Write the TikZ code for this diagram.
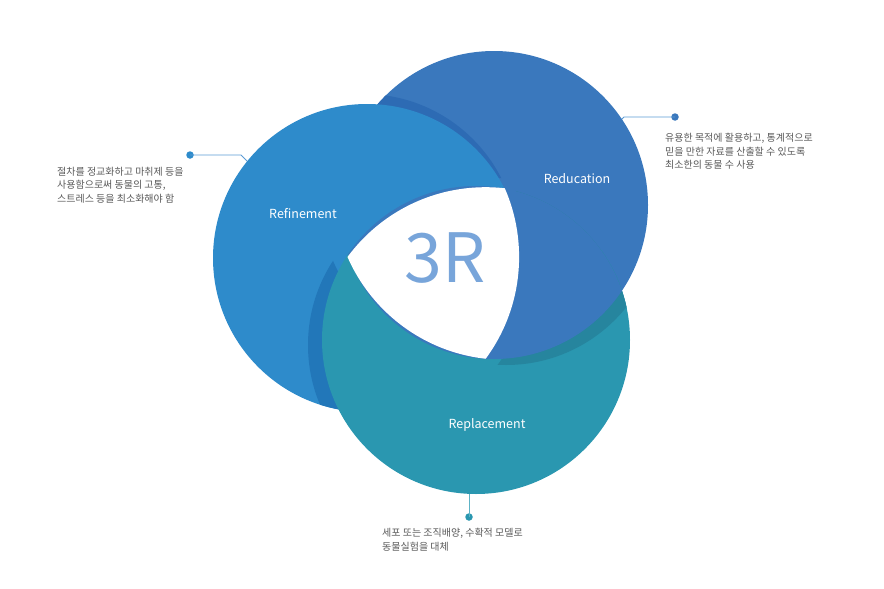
\documentclass[tikz,border=0pt]{standalone}
\usepackage{fontspec}
\setmainfont{Noto Sans CJK KR}
\usepackage{tikz}
\usetikzlibrary{positioning}

\definecolor{refineblue}{HTML}{2E8BCB}
\definecolor{refineshade}{HTML}{2277B9}
\definecolor{reduceblue}{HTML}{3A78BD}
\definecolor{reduceshade}{HTML}{2D6BB4}
\definecolor{replaceteal}{HTML}{2A97B0}
\definecolor{replaceshade}{HTML}{26859E}
\definecolor{threercolor}{HTML}{78A5DA}
\definecolor{leadblue}{HTML}{5B9BD5}
\definecolor{leadteal}{HTML}{5DB3C6}
\definecolor{notegray}{HTML}{595959}

% clip to everything outside the hole around a corner of the centre
% (used inside scopes with the even odd rule)
\newcommand{\holeclip}[1]{\clip (-20,-20) rectangle (904,609) (#1) circle[radius=171.5pt];}

\begin{document}
\begin{tikzpicture}[x=1pt, y=-1pt,
    pindot/.style={circle, fill=#1, inner sep=0pt, minimum size=7.5pt},
    lead/.style={draw=#1, line width=0.9pt},
    note/.style={text=notegray, align=left, anchor=north west, inner sep=0pt,
        font=\fontsize{10}{13.5}\selectfont},
    rname/.style={text=white, font=\fontsize{12.5}{14}\selectfont}]
    \useasboundingbox (0,0) rectangle (884,589);

    % circle centres and corners of the white centre
    \coordinate (refine) at (367,258);
    \coordinate (reduce) at (494,205);
    \coordinate (replace) at (476,340);
    \coordinate (p1) at (347.6,257.0);
    \coordinate (p2) at (504.7,188.3);
    \coordinate (p3) at (485.6,358.7);

    % connectors (behind the circles)
    \node[pindot=refineblue] (dotrefine) at (190,155) {};
    \coordinate (kneerefine) at (241,155);
    \coordinate (edgerefine) at (252,166);
    \draw[lead=leadblue] (dotrefine.center) -- (kneerefine) -- (edgerefine);

    \node[pindot=reduceblue] (dotreduce) at (675,117) {};
    \coordinate (kneereduce) at (624,117);
    \coordinate (edgereduce) at (616,125);
    \draw[lead=leadblue] (dotreduce.center) -- (kneereduce) -- (edgereduce);

    \node[pindot=replaceteal] (dotreplace) at (469,517) {};
    \coordinate (edgereplace) at (469,490);
    \draw[lead=leadteal] (dotreplace.center) -- (edgereplace);

    % reducation, with the shade of refinement
    \fill[reduceblue] (reduce) circle[radius=154pt];
    \begin{scope}[even odd rule]
        \clip (reduce) circle[radius=154pt];
        \holeclip{[shift={(-3,-10)}]p3}
        \fill[reduceshade] ([shift={(-3,-10)}]refine) circle[radius=154pt];
    \end{scope}

    % refinement, with the shade of replacement
    \fill[refineblue] (refine) circle[radius=154pt];
    \begin{scope}[even odd rule]
        \clip (refine) circle[radius=154pt];
        \holeclip{[shift={(-14,5)}]p2}
        \fill[refineshade] ([shift={(-14,5)}]replace) circle[radius=154pt];
    \end{scope}

    % replacement (its top stays clear of the hole), with the shade of reducation
    \begin{scope}[even odd rule]
        \clip (-20,-20) rectangle (904,250) (p2) circle[radius=171.5pt];
        \fill[replaceteal] (replace) circle[radius=154pt];
    \end{scope}
    \begin{scope}
        \clip (-20,250) rectangle (904,609);
        \fill[replaceteal] (replace) circle[radius=154pt];
    \end{scope}
    \begin{scope}[even odd rule]
        \clip (replace) circle[radius=154pt];
        \begin{scope}
            \holeclip{[shift={(12,6)}]p1}
            \fill[replaceshade] ([shift={(12,6)}]reduce) circle[radius=154pt];
        \end{scope}
        \fill[reduceblue] (reduce) circle[radius=154pt];
    \end{scope}

    % white centre
    \begin{scope}
        \clip (p1) circle[radius=171.5pt];
        \clip (p2) circle[radius=171.5pt];
        \fill[white] (p3) circle[radius=171.5pt];
    \end{scope}

    \node[text=threercolor, font=\fontsize{68}{68}\selectfont] (threer) at (445,258) {3R};

    \node[rname] (namerefine) at (303,214) {Refinement};
    \node[rname] (namereduce) at (577,179) {Reducation};
    \node[rname] (namereplace) at (487,425) {Replacement};

    \node[note] (noterefine) at (57,167) {절차를 정교화하고 마취제 등을\\사용함으로써 동물의 고통,\\스트레스 등을 최소화해야 함};
    \node[note] (notereduce) at (665,133) {유용한 목적에 활용하고, 통계적으로\\믿을 만한 자료를 산출할 수 있도록\\최소한의 동물 수 사용};
    \node[note] (notereplace) at (382,528) {세포 또는 조직배양, 수확적 모델로\\동물실험을 대체};
\end{tikzpicture}
\end{document}
